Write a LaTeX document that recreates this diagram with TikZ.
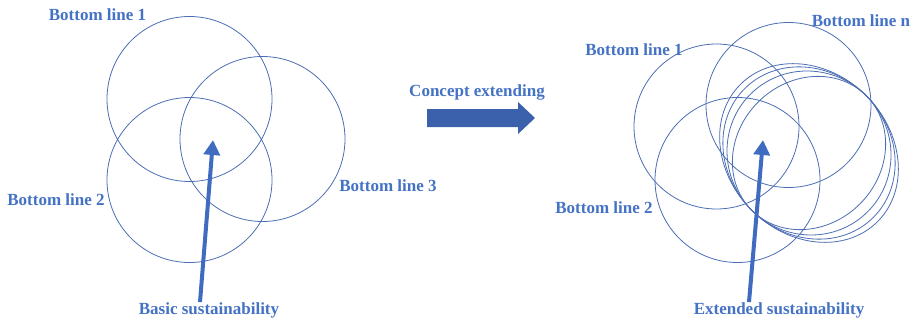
\documentclass[tikz,border=0pt]{standalone}
\usepackage{fontspec}
\setmainfont{Liberation Serif}
\usetikzlibrary{arrows.meta}
\definecolor{ringblue}{HTML}{4A6DB3}
\definecolor{textblue}{HTML}{4472C4}
\definecolor{arrowblue}{HTML}{3F6CC0}
\definecolor{blockblue}{HTML}{3B61AD}
\begin{document}
\begin{tikzpicture}[x=1pt,y=-1pt,
  ring/.style={circle, draw=ringblue, line width=0.8pt, minimum size=165pt, inner sep=0pt},
  lbl/.style={text=textblue, font=\bfseries\fontsize{17}{18}\selectfont, inner sep=0pt},
  pointer/.style={draw=arrowblue, line width=4pt, -{Triangle[length=15pt,width=16pt]}},
  extra/.style={draw=ringblue, line width=0.8pt}]
\useasboundingbox (0,0) rectangle (915,324);

% basic case: three bottom lines
\node[ring] (c1) at (189.5,99) {};
\node[ring] (c2) at (189.5,180) {};
\node[ring] (c3) at (262.5,139) {};
\node[lbl] (l1) at (97.5,15) {Bottom line 1};
\node[lbl] (l2) at (56,200) {Bottom line 2};
\node[lbl] (l3) at (388,186) {Bottom line 3};
\node[lbl] (basic) at (209,310) {Basic sustainability};
\coordinate (tipL) at (213,140);
\draw[pointer] ([xshift=-9pt]basic.north) -- (tipL);

% concept extending arrow
\node[lbl] (concept) at (477,92) {Concept extending};
\fill[blockblue] (427,109) -- (518,109) -- (518,102) -- (535,118) -- (518,134) -- (518,127) -- (427,127) -- cycle;

% extended case: n bottom lines
\node[ring] (d1) at (716.5,126.5) {};
\node[ring] (dn) at (788.5,105) {};
\node[ring] (d2) at (737.5,180) {};
\begin{scope}[shift={(809,153)}]
  \draw[extra] (0,0) ellipse [x radius=97pt, y radius=81pt, rotate=-45];
  \draw[extra] (0,0) ellipse [x radius=91pt, y radius=81pt, rotate=-45];
  \draw[extra] (0,0) ellipse [x radius=83pt, y radius=81pt, rotate=-45];
  \draw[extra] (0,0) ellipse [x radius=72pt, y radius=81pt, rotate=-45];
\end{scope}
\node[lbl] (r1) at (634,50) {Bottom line 1};
\node[lbl] (rn) at (861,21) {Bottom line n};
\node[lbl] (r2) at (604,208) {Bottom line 2};
\node[lbl] (ext) at (779,310) {Extended sustainability};
\coordinate (tipR) at (763,140);
\draw[pointer] ([xshift=-30pt]ext.north) -- (tipR);
\end{tikzpicture}
\end{document}
